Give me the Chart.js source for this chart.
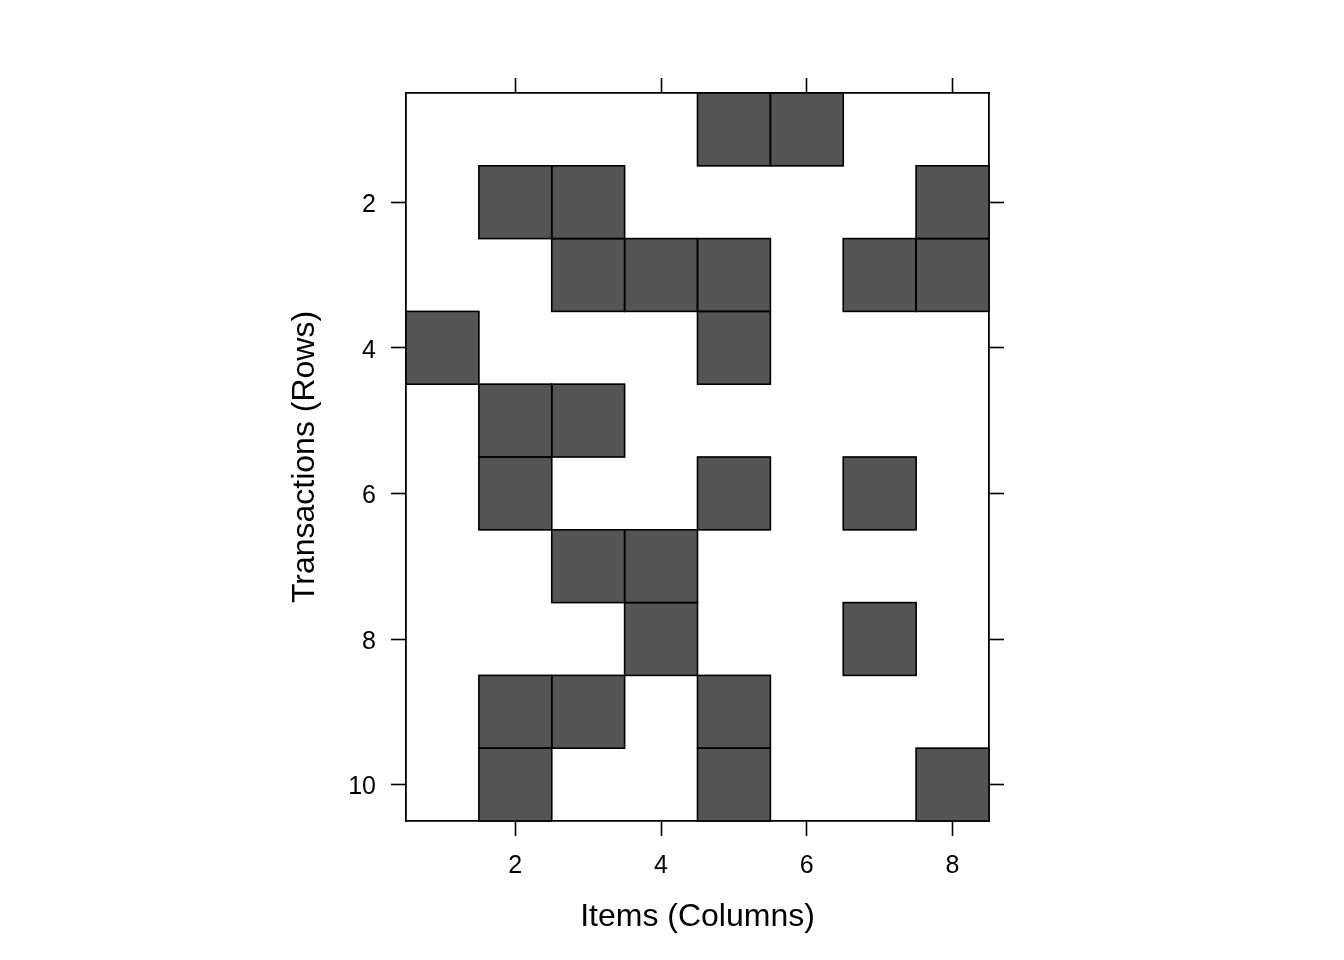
<!DOCTYPE html>
<html>
<head>
<meta charset="utf-8">
<script src="https://cdn.jsdelivr.net/npm/chart.js@4/dist/chart.umd.min.js"></script>
<style>
  body { margin: 0; background: #fff; }
  #wrap { width: 1344px; height: 960px; }
</style>
</head>
<body>
<div id="wrap"><canvas id="matrixChart" width="1344" height="960"></canvas></div>
<script>
// DATA
const items = ["1", "2", "3", "4", "5", "6", "7", "8"];
const transactions = [1, 2, 3, 4, 5, 6, 7, 8, 9, 10];
const xTicks = [2, 4, 6, 8];
const yTicks = [2, 4, 6, 8, 10];

// items present in each transaction (row -> columns)
const row1 = [5, 6];
const row2 = [2, 3, 8];
const row3 = [3, 4, 5, 7, 8];
const row4 = [1, 5];
const row5 = [2, 3];
const row6 = [2, 5, 7];
const row7 = [3, 4];
const row8 = [4, 7];
const row9 = [2, 3, 5];
const row10 = [2, 5, 8];
const rows = [row1, row2, row3, row4, row5, row6, row7, row8, row9, row10];

const FONT = "'Liberation Sans', Arial, sans-serif";

// one dataset per transaction, floating bar spans the row
const datasets = transactions.map((t, i) => ({
  label: "Row " + t,
  data: items.map((c, j) => rows[i].includes(j + 1) ? [t - 0.5, t + 0.5] : null),
  backgroundColor: "#555555",
  borderWidth: 0,
  grouped: false,
  barPercentage: 1,
  categoryPercentage: 1
}));

// outline each cell with a centered stroke so shared edges stay thin
const cellOutline = {
  id: "cellOutline",
  afterDatasetsDraw(chart) {
    const ctx = chart.ctx;
    ctx.save();
    ctx.strokeStyle = "#000";
    ctx.lineWidth = 1.6;
    chart.data.datasets.forEach((ds, i) => {
      chart.getDatasetMeta(i).data.forEach((bar, j) => {
        if (ds.data[j] == null) return;
        const top = Math.min(bar.y, bar.base);
        const h = Math.abs(bar.base - bar.y);
        ctx.strokeRect(bar.x - bar.width / 2, top, bar.width, h);
      });
    });
    ctx.restore();
  }
};

const tickMark = (ctx) => xTicks.includes(ctx.index + 1) ? "#000" : "rgba(0,0,0,0)";
const border = { display: true, color: "#000", width: 1.8 };

new Chart(document.getElementById("matrixChart"), {
  type: "bar",
  data: { labels: items, datasets: datasets },
  plugins: [cellOutline],
  options: {
    responsive: false,
    animation: false,
    layout: { padding: { left: 286, right: 340, top: 78, bottom: 24 } },
    plugins: { legend: { display: false }, tooltip: { enabled: false } },
    scales: {
      x: {
        type: "category",
        position: "bottom",
        offset: true,
        grid: { offset: false, drawOnChartArea: false, tickLength: 15, tickWidth: 1.6, tickColor: tickMark },
        border: border,
        ticks: {
          autoSkip: false, maxRotation: 0, padding: 15, color: "#000",
          font: { family: FONT, size: 25 },
          callback: (v, i) => xTicks.includes(i + 1) ? items[i] : ""
        },
        title: { display: true, text: "Items (Columns)", color: "#000", padding: 0, font: { family: FONT, size: 32 } },
        afterFit: (s) => { s.height = 115; }
      },
      x2: {
        type: "category",
        labels: items,
        position: "top",
        offset: true,
        grid: { offset: false, drawOnChartArea: false, tickLength: 15, tickWidth: 1.6, tickColor: tickMark },
        border: border,
        ticks: { display: false, autoSkip: false },
        afterFit: (s) => { s.height = 15; }
      },
      y: {
        type: "linear",
        position: "left",
        reverse: true,
        min: 0.5,
        max: 10.5,
        afterBuildTicks: (s) => { s.ticks = yTicks.map(v => ({ value: v })); },
        grid: { drawOnChartArea: false, tickLength: 15, tickWidth: 1.6, tickColor: "#000" },
        border: border,
        ticks: { padding: 15, labelOffset: 3, color: "#000", font: { family: FONT, size: 25 } },
        title: { display: true, text: "Transactions (Rows)", color: "#000", padding: 0, font: { family: FONT, size: 32 } },
        afterFit: (s) => { s.width = 120; }
      },
      y2: {
        type: "linear",
        position: "right",
        reverse: true,
        min: 0.5,
        max: 10.5,
        afterBuildTicks: (s) => { s.ticks = yTicks.map(v => ({ value: v })); },
        grid: { drawOnChartArea: false, tickLength: 15, tickWidth: 1.6, tickColor: "#000" },
        border: border,
        ticks: { display: false },
        afterFit: (s) => { s.width = 15; }
      }
    }
  }
});
</script>
</body>
</html>
